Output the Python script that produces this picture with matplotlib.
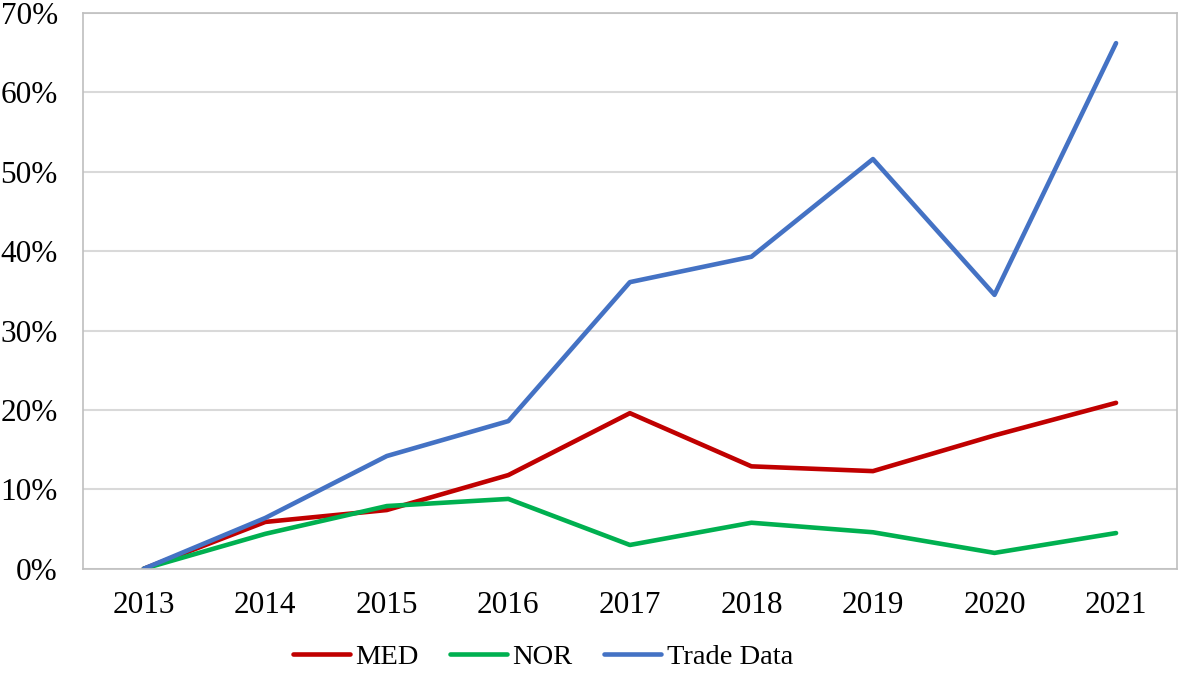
import numpy as np
import matplotlib.pyplot as plt
from matplotlib.ticker import PercentFormatter

years = ['2013', '2014', '2015', '2016', '2017', '2018', '2019', '2020', '2021']
med = [0.0, 5.9, 7.4, 11.8, 19.6, 12.9, 12.3, 16.8, 20.9]
nor = [0.0, 4.4, 7.9, 8.8, 3.0, 5.8, 4.6, 2.0, 4.5]
trade = [0.0, 6.4, 14.2, 18.6, 36.1, 39.3, 51.6, 34.5, 66.2]

plt.rcParams['font.family'] = ['Liberation Serif', 'DejaVu Serif']

fig = plt.figure(figsize=(11.8, 6.82), dpi=100)
ax = fig.add_axes([0.0703, 0.166, 0.927, 0.815])

x = np.arange(len(years))
ax.plot(x, med, color='#C00000', lw=3.3, label='MED', solid_capstyle='round')
ax.plot(x, nor, color='#00B050', lw=3.3, label='NOR', solid_capstyle='round')
ax.plot(x, trade, color='#4472C4', lw=3.3, label='Trade Data', solid_capstyle='round')

ax.set_xlim(-0.5, len(years) - 0.5)
ax.set_ylim(0, 70)
ax.set_yticks(np.arange(0, 71, 10))
ax.yaxis.set_major_formatter(PercentFormatter(decimals=0))
ax.set_xticks(x)
ax.set_xticklabels(years)
ax.tick_params(axis='both', length=0, labelsize=22.5)
ax.tick_params(axis='x', pad=16)
ax.tick_params(axis='y', pad=18)
ax.grid(axis='y', color='#D9D9D9', lw=1.5)
ax.set_axisbelow(True)
for s in ax.spines.values():
    s.set_color('#BFBFBF')
    s.set_linewidth(1.2)

fig.legend(loc='center', bbox_to_anchor=(0.46, 0.037), ncol=3, frameon=False,
           fontsize=20.5, handlelength=2.0, handletextpad=0.2, columnspacing=1.1)

fig.savefig('out.png', dpi=100)
